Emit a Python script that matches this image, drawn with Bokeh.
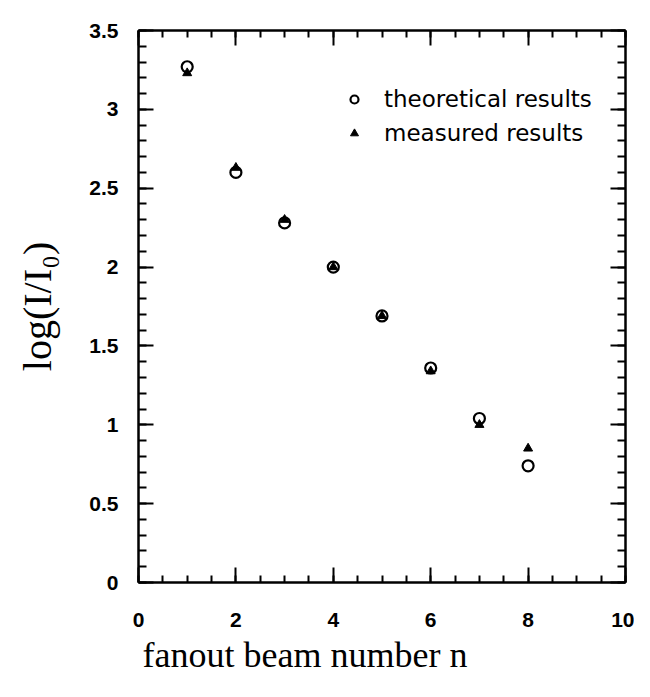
from bokeh.plotting import figure
from bokeh.models import (LinearAxis, Range1d, Legend, LegendItem, Title,
                          SingleIntervalTicker, CustomJSTickFormatter, ColumnDataSource)
from bokeh.embed import file_html
from bokeh.resources import INLINE

# ---- data ----
n = [1, 2, 3, 4, 5, 6, 7, 8]
theoretical = [3.27, 2.60, 2.28, 2.00, 1.69, 1.36, 1.04, 0.74]
measured = [3.23, 2.63, 2.30, 2.00, 1.69, 1.34, 1.00, 0.85]

x_tick_values = [0, 2, 4, 6, 8, 10]
x_tick_labels = ["0", "2", "4", "6", "8", "10"]
y_tick_values = [0, 0.5, 1, 1.5, 2, 2.5, 3, 3.5]
y_tick_labels = ["0", "0.5", "1", "1.5", "2", "2.5", "3", "3.5"]

series_names = ["theoretical results", "measured results"]
x_title = "fanout beam number n"
y_title = "log(I/I\u2080)"

src = ColumnDataSource(dict(n=n, theo=theoretical, meas=measured))

p = figure(width=634, height=681, output_backend="svg", toolbar_location=None,
           x_range=Range1d(0, 10), y_range=Range1d(0, 3.5),
           min_border_left=138, min_border_right=9, min_border_top=30, min_border_bottom=99,
           background_fill_color="white", border_fill_color="white",
           outline_line_color=None)
p.xgrid.visible = False
p.ygrid.visible = False

serif = "Liberation Serif"
sans = "Liberation Sans"

def style_axis(ax, major, minor, labels=True):
    ax.axis_line_color = "black"
    ax.axis_line_width = 2.5
    ax.major_tick_line_color = "black"
    ax.major_tick_line_width = 2
    ax.minor_tick_line_color = "black"
    ax.minor_tick_line_width = 2
    ax.major_tick_in = major
    ax.major_tick_out = 0
    ax.minor_tick_in = minor
    ax.minor_tick_out = 0
    if labels:
        ax.major_label_text_font = sans
        ax.major_label_text_font_style = "bold"
        ax.major_label_text_font_size = "21px"
        ax.major_label_text_color = "black"

xt = SingleIntervalTicker(interval=2, num_minor_ticks=4)
yt = SingleIntervalTicker(interval=0.5, num_minor_ticks=5)

xa = p.xaxis[0]
xa.ticker = xt
xa.major_label_overrides = {v: s for v, s in zip(x_tick_values, x_tick_labels)}
style_axis(xa, 15, 7)
xa.major_label_standoff = 30

ya = p.yaxis[0]
ya.ticker = yt
ya.major_label_overrides = {v: s for v, s in zip(y_tick_values, y_tick_labels)}
style_axis(ya, 15, 8)
ya.major_label_standoff = 20
ya.axis_label = y_title
ya.axis_label_text_font = serif
ya.axis_label_text_font_style = "normal"
ya.axis_label_text_font_size = "40px"
ya.axis_label_standoff = 26
ya.axis_label_text_color = "black"

blank = CustomJSTickFormatter(code="return '';")
top = LinearAxis(ticker=SingleIntervalTicker(interval=2, num_minor_ticks=4), formatter=blank,
                 major_label_standoff=0)
style_axis(top, 15, 7, labels=False)
p.add_layout(top, "above")
right = LinearAxis(ticker=SingleIntervalTicker(interval=0.5, num_minor_ticks=5), formatter=blank,
                   major_label_standoff=0)
style_axis(right, 15, 8, labels=False)
p.add_layout(right, "right")

t = Title(text=x_title, align="left", offset=4, text_font=serif, text_font_size="36px",
          text_font_style="normal", text_color="black", standoff=6)
p.add_layout(t, "below")

r_theo = p.scatter("n", "theo", source=src, marker="circle", size=11,
                   fill_color=None, line_color="black", line_width=2.2)
r_meas = p.scatter("n", "meas", source=src, marker="triangle", size=9,
                   fill_color="black", line_color="black", line_width=1)

legend = Legend(items=[LegendItem(label=series_names[0], renderers=[r_theo]),
                       LegendItem(label=series_names[1], renderers=[r_meas])],
                location=(206, 432), orientation="vertical",
                label_text_font="DejaVu Sans", label_text_font_size="23px",
                label_text_color="black", label_height=34, glyph_height=20, glyph_width=20,
                label_standoff=20, spacing=0, padding=0, margin=0,
                border_line_color=None, background_fill_alpha=0)
p.add_layout(legend)

open("out.html", "w").write(file_html(p, INLINE))
